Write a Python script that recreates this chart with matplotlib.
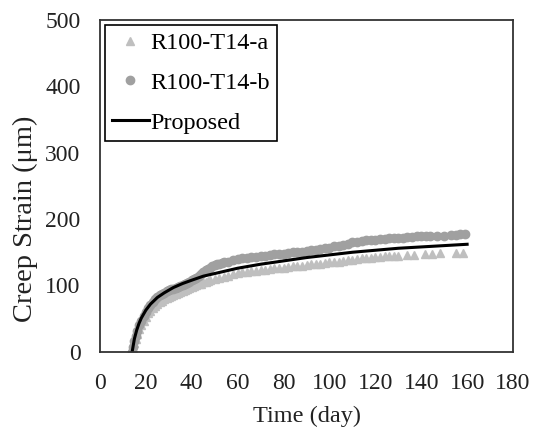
import matplotlib.pyplot as plt

plt.rcParams['font.family'] = ['Liberation Serif', 'DejaVu Serif']

# R100-T14-a (triangles)
days_a = [14, 14.5, 15, 15.5, 16, 17, 18, 19, 20, 21, 22, 23, 24, 25, 26, 27, 28, 29, 30,
          31, 32, 33, 34, 35, 36, 37, 38, 39, 40, 41, 42, 43, 44, 45, 46, 47, 48, 50, 52,
          54, 56, 58, 60, 62, 64, 66, 68, 70, 72, 74, 76, 78, 80, 82, 84, 86, 88, 90, 92,
          94, 96, 98, 100, 102, 104, 106, 108, 110, 112, 114, 116, 118, 120, 122, 124, 126,
          128, 130, 134, 137, 141.7, 144.6, 148, 155, 158]
strain_a = [0, 6, 13, 20, 27, 34, 41, 47, 53, 58, 62, 66, 69, 72, 75, 77, 79, 81, 83,
            84, 85, 87, 88, 90, 91, 93, 94, 96, 97, 99, 100, 102, 103, 105, 106, 107, 108, 110, 111,
            113, 115, 117, 119, 120, 121, 122, 122, 123, 124, 125, 126, 126, 127, 128, 129, 130, 130, 131, 132,
            133, 133, 134, 135, 136, 136, 137, 138, 139, 140, 141, 141, 142, 143, 143, 144, 144,
            145, 145, 146, 146, 147, 147, 149, 149, 149]

# R100-T14-b (circles)
days_b = [14, 14.5, 15, 15.5, 16, 17, 18, 19, 20, 21, 22, 23, 24, 25, 26, 27, 28, 29, 30,
          31, 32, 33, 34, 35, 36, 37, 38, 39, 40, 41, 42, 43, 44, 45, 46, 47, 48, 49, 50,
          51, 52, 53, 54, 56, 58, 60, 62, 64, 66, 68, 70, 72, 74, 76, 78, 80, 82, 84, 86,
          88, 90, 92, 94, 96, 98, 100, 102, 104, 106, 108, 110, 112, 114, 116, 118, 120, 122,
          124, 126, 128, 130, 132, 134, 136, 138, 140, 142, 144, 147, 150, 153, 155, 157, 159]
strain_b = [0, 8, 16, 24, 32, 40, 47, 54, 60, 66, 71, 75, 79, 82, 85, 87, 89, 91, 93,
            94, 95, 96, 97, 99, 100, 102, 104, 106, 108, 110, 112, 115, 118, 121, 123, 125, 127, 129, 131,
            132, 133, 134, 135, 136, 138, 140, 141, 142, 143, 143, 144, 145, 146, 147, 148, 148, 149, 150, 150,
            151, 152, 153, 154, 155, 156, 157, 159, 160, 161, 163, 165, 166, 167, 168, 168, 169, 170,
            170, 171, 171, 172, 172, 173, 173, 174, 174, 174, 175, 175, 175, 176, 176, 177, 177]

# Proposed model
days_p = [14, 15, 16, 17, 18, 20, 22, 25, 28, 32, 36, 40, 45, 50, 55, 60, 70, 80, 90,
          100, 110, 120, 130, 140, 150, 160]
strain_p = [0, 20, 33, 43, 51, 63, 72, 82, 89, 97, 103, 108, 114, 118, 122, 126, 132, 137, 142,
            146, 150, 153, 156, 158, 160, 162]

fig = plt.figure(figsize=(5.42, 4.29), dpi=100)
ax = fig.add_axes([0.1845, 0.1795, 0.762, 0.775])

ax.plot(days_a, strain_a, ls='none', marker='^', ms=6, color='#bfbfbf',
        mec='#bfbfbf', label='R100-T14-a')
ax.plot(days_b, strain_b, ls='none', marker='o', ms=6, color='#a0a0a0',
        mec='#a0a0a0', label='R100-T14-b')
ax.plot(days_p, strain_p, color='black', lw=2.2, label='Proposed')

ax.set_xlim(0, 180)
ax.set_ylim(0, 500)
ax.set_xticks(range(0, 181, 20))
ax.set_yticks(range(0, 501, 100))
ax.tick_params(length=0, labelsize=17, colors='#222222')
ax.tick_params(axis='x', pad=15)
ax.tick_params(axis='y', pad=14)
for s in ax.spines.values():
    s.set_color('#333333')
    s.set_linewidth(1.3)

ax.set_xlabel('Time (day)', fontsize=17.5, color='#222222')
ax.set_ylabel('Creep Strain (μm)', fontsize=20.5, color='#222222')
ax.xaxis.set_label_coords(0.5, -0.162)
ax.yaxis.set_label_coords(-0.15, 0.40)

leg = ax.legend(loc='upper left', bbox_to_anchor=(0.012, 0.983), borderaxespad=0,
                fontsize=17.5, fancybox=False, edgecolor='black', framealpha=1,
                handlelength=1.5, handletextpad=0.08, labelspacing=0.72, borderpad=0.3)
leg.get_frame().set_linewidth(1.2)

fig.savefig('out.png', dpi=100)
